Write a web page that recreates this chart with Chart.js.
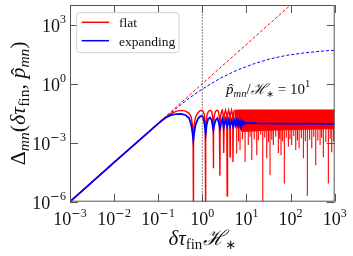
<!DOCTYPE html>
<html>
<head>
<meta charset="utf-8">
<script src="https://cdn.jsdelivr.net/npm/chart.js@4.4.1/dist/chart.umd.min.js"></script>
<style>
  html, body { margin: 0; padding: 0; background: #fff; }
  canvas { display: block; }
</style>
</head>
<body>
<canvas id="chart" width="353" height="256"></canvas>
<script>
// ticks
const xTicks = [1e-3, 1e-2, 1e-1, 1e0, 1e1, 1e2, 1e3];
const xTickExp = ["−3", "−2", "−1", "0", "1", "2", "3"];
const yTicks = [1e-6, 1e-3, 1e0, 1e3];
const yTickExp = ["−6", "−3", "0", "3"];

// flat, solid (resolved oscillations)
const flatX = [1e-3, 0.01, 0.1, 0.143, 0.2, 0.26, 0.34, 0.42, 0.5, 0.56, 0.595, 0.615, 0.625, 0.635, 0.655,
  0.7, 0.78, 0.86, 0.95, 1.04, 1.11, 1.16, 1.18, 1.19, 1.2, 1.225, 1.28, 1.38, 1.5, 1.62,
  1.71, 1.76, 1.78, 1.8, 1.86, 1.98, 2.15, 2.3, 2.42, 2.49, 2.51, 2.53, 2.6, 2.72, 2.85,
  2.97, 3.05, 3.13, 3.35, 3.58, 3.65, 3.72, 3.95, 4.18, 4.25, 4.32, 4.6, 4.86, 4.95, 5.04, 5.3];
const flatY = [1e-6, 1e-4, 0.0095, 0.019, 0.031, 0.040, 0.044, 0.040, 0.031, 0.020, 0.008, 0.0025, 1e-7, 0.0025, 0.008,
  0.020, 0.032, 0.040, 0.044, 0.040, 0.027, 0.010, 0.003, 1e-7, 0.003, 0.010, 0.027, 0.040, 0.044, 0.039,
  0.022, 0.005, 5e-5, 0.005, 0.022, 0.039, 0.045, 0.040, 0.022, 0.005, 2.1e-5, 0.005, 0.022, 0.040, 0.045,
  0.025, 3e-4, 0.025, 0.045, 0.025, 2e-6, 0.025, 0.045, 0.025, 1.9e-4, 0.025, 0.045, 0.025, 1.05e-4, 0.025, 0.045];

// flat, dense part: band envelope + the visible spikes
const bandX = [5.3, 8, 30, 1000];
const bandTop = [0.045, 0.046, 0.046, 0.046];
const bandBottom = [0.012, 0.0035, 0.004, 0.005];
const spikeTop = 0.045;
const flatSpikeX = [6.0, 6.6, 7.15, 8.1, 9.3, 11, 12.1, 13.2, 15, 17.1, 18.6, 21, 23.4, 26, 28.8,
  31.5, 34.2, 37.5, 40.7, 46, 52.8, 56.5, 60.8, 66, 72.2, 80, 89, 97, 106, 118,
  131, 143, 156, 175, 195, 216, 240, 270, 302, 335, 372, 415, 466, 505, 553, 630, 718, 790, 857, 940];
const flatSpikeY = [2.8e-4, 1.2e-3, 4.2e-4, 1.5e-3, 1.05e-4, 7.6e-4, 2e-3, 1.3e-4, 1.5e-3, 2.3e-4, 1.35e-3, 2.5e-3, 5e-7, 1.8e-3, 1.6e-4,
  1.1e-3, 2.2e-5, 1.4e-3, 7.6e-4, 2e-3, 3e-4, 1.6e-3, 2.3e-4, 1.2e-3, 8.3e-6, 1.8e-3, 6.2e-4, 1.5e-3, 7.6e-4, 2.2e-3,
  4.2e-4, 1.3e-3, 5.2e-4, 1.7e-3, 1.6e-4, 1.2e-3, 2e-6, 1.4e-3, 5.2e-4, 2e-3, 7.1e-5, 1.3e-3, 7.6e-4, 1.8e-3, 1.8e-4, 1.1e-3, 8.3e-6, 1.6e-3, 3.3e-4, 1.2e-3];

// expanding, solid
const expX = [1e-3, 0.01, 0.1, 0.143, 0.2, 0.26, 0.33, 0.42, 0.5, 0.56, 0.6, 0.625, 0.65, 0.7, 0.8,
  0.9, 0.97, 1.05, 1.13, 1.19, 1.25, 1.35, 1.5, 1.62, 1.72, 1.78, 1.86, 2.0, 2.19, 2.35,
  2.51, 2.7, 2.85, 3.05, 3.35, 3.65, 3.95, 4.25, 4.6, 4.95, 5.25, 5.55, 5.9, 6.2, 6.5,
  6.85, 7.2, 7.5, 7.9, 8.3, 8.7, 9.1, 10, 20, 100, 1000];
const expY = [1e-6, 1e-4, 0.0093, 0.018, 0.026, 0.0285, 0.029, 0.025, 0.018, 0.008, 0.003, 0.00135, 0.003, 0.008, 0.017,
  0.022, 0.0235, 0.019, 0.008, 0.0028, 0.008, 0.016, 0.019, 0.014, 0.007, 0.0045, 0.008, 0.014, 0.0174, 0.011,
  0.0054, 0.012, 0.0158, 0.006, 0.015, 0.0066, 0.0141, 0.0069, 0.0135, 0.0072, 0.0132, 0.0076, 0.0128, 0.0078, 0.0125,
  0.008, 0.012, 0.0083, 0.0118, 0.0086, 0.0114, 0.0088, 0.0102, 0.0096, 0.0093, 0.009];

// dashed envelopes
const flatDashX = [1e-3, 100];
const flatDashY = [1e-6, 1e4];
const expDashX = [1e-3, 0.1, 0.251, 0.501, 1, 2.51, 6.03, 14.3, 34.2, 81.3, 195, 466, 1000];
const expDashY = [1e-6, 0.0093, 0.053, 0.184, 0.537, 1.86, 4.79, 10, 18.2, 27.5, 36.3, 44.7, 50.1];

const markX = 1;
const annotX = 3.45, annotY = 0.31;

const RED = "#ff0000", BLUE = "#0000ff";
const serif = "'Liberation Serif', 'DejaVu Serif', serif";
const fnt = (size, italic) => (italic ? "italic " : "") + size + "px " + serif;

const pts = (xs, ys) => xs.map((x, i) => ({ x: x, y: ys[i] }));

const spikePts = [];
flatSpikeX.forEach((x, i) => {
    spikePts.push({ x: x, y: spikeTop }, { x: x, y: flatSpikeY[i] }, { x: x, y: null });
});

function runsWidth(ctx, runs) {
    let w = 0;
    runs.forEach(r => { ctx.font = r.font; w += ctx.measureText(r.t).width + (r.gap || 0); });
    return w;
}
function drawRuns(ctx, runs, x, y) {
    let cx = x;
    runs.forEach(r => {
        ctx.font = r.font;
        ctx.fillText(r.t, cx, y + (r.dy || 0));
        const w = ctx.measureText(r.t).width;
        if (r.hat) {
            ctx.save();
            ctx.font = r.hat.font;
            ctx.textAlign = "center";
            ctx.fillText("ˆ", cx + w / 2 + r.hat.dx, y + r.hat.dy);
            ctx.restore();
        }
        cx += w + (r.gap || 0);
    });
}
function tickRuns(exp) {
    const runs = [{ t: "10", font: fnt(18) }];
    if (exp[0] === "−") {
        runs.push({ t: "−", font: "11px 'DejaVu Sans'", dy: -8.5, gap: 0.5 });
        runs.push({ t: exp.slice(1), font: fnt(12), dy: -8.5 });
    } else {
        runs.push({ t: exp, font: fnt(12), dy: -8.5 });
    }
    return runs;
}

const decorPlugin = {
    id: "decor",
    afterDatasetsDraw(chart) {
        const ctx = chart.ctx;
        const a = chart.chartArea;
        const xs = chart.scales.x, ys = chart.scales.y;
        ctx.save();

        // frame and inward ticks
        ctx.strokeStyle = "#555";
        ctx.lineWidth = 1;
        ctx.strokeRect(a.left + 0.5, a.top + 0.5, a.right - a.left - 1, a.bottom - a.top - 1);
        ctx.beginPath();
        xTicks.forEach(v => {
            const px = Math.round(xs.getPixelForValue(v)) + 0.5;
            ctx.moveTo(px, a.bottom); ctx.lineTo(px, a.bottom - 8);
            ctx.moveTo(px, a.top); ctx.lineTo(px, a.top + 8);
        });
        yTicks.forEach(v => {
            const py = Math.round(ys.getPixelForValue(v)) + 0.5;
            ctx.moveTo(a.left, py); ctx.lineTo(a.left + 8, py);
            ctx.moveTo(a.right, py); ctx.lineTo(a.right - 8, py);
        });
        ctx.stroke();

        // tick labels
        ctx.fillStyle = "#111";
        ctx.textAlign = "left";
        ctx.textBaseline = "alphabetic";
        xTicks.forEach((v, i) => {
            const runs = tickRuns(xTickExp[i]);
            const w = runsWidth(ctx, runs);
            drawRuns(ctx, runs, xs.getPixelForValue(v) - w / 2, a.bottom + 23.5);
        });
        yTicks.forEach((v, i) => {
            const runs = tickRuns(yTickExp[i]);
            const w = runsWidth(ctx, runs);
            drawRuns(ctx, runs, a.left - 4 - w, ys.getPixelForValue(v) + 7);
        });

        // x label
        const xl = [
            { t: "δτ", font: fnt(21, true) },
            { t: "fin", font: fnt(15), dy: 4, gap: 1 },
            { t: "ℋ", font: fnt(21, true) },
            { t: "∗", font: "13px 'DejaVu Sans'", dy: 4 }
        ];
        const xlw = runsWidth(ctx, xl);
        drawRuns(ctx, xl, (a.left + a.right) / 2 - xlw / 2, 245);

        // y label
        const yl = [
            { t: "Δ", font: fnt(22) },
            { t: "mn", font: fnt(15.5, true), dy: 4 },
            { t: "(", font: fnt(22) },
            { t: "δτ", font: fnt(22, true) },
            { t: "fin", font: fnt(15.5), dy: 4 },
            { t: ", ", font: fnt(22) },
            { t: "p", font: fnt(22, true), hat: { font: fnt(22), dx: 1.5, dy: 1 } },
            { t: "mn", font: fnt(15.5, true), dy: 4 },
            { t: ")", font: fnt(22) }
        ];
        const ylw = runsWidth(ctx, yl);
        ctx.save();
        ctx.translate(25, (a.top + a.bottom) / 2);
        ctx.rotate(-Math.PI / 2);
        drawRuns(ctx, yl, -ylw / 2, 0);
        ctx.restore();

        // annotation
        const an = [
            { t: "p", font: fnt(15, true), hat: { font: fnt(15), dx: 1, dy: 0 } },
            { t: "mn", font: fnt(10.5, true), dy: 3 },
            { t: "/", font: fnt(15) },
            { t: "ℋ", font: fnt(15, true) },
            { t: "∗", font: "9px 'DejaVu Sans'", dy: 3 },
            { t: " = 10", font: fnt(15) },
            { t: "1", font: fnt(10.5), dy: -7 }
        ];
        drawRuns(ctx, an, xs.getPixelForValue(annotX), ys.getPixelForValue(annotY));

        // legend
        const lx = 76.7, ly = 12.7, lw = 102.3, lh = 40, r = 3;
        ctx.beginPath();
        ctx.moveTo(lx + r, ly);
        ctx.arcTo(lx + lw, ly, lx + lw, ly + lh, r);
        ctx.arcTo(lx + lw, ly + lh, lx, ly + lh, r);
        ctx.arcTo(lx, ly + lh, lx, ly, r);
        ctx.arcTo(lx, ly, lx + lw, ly, r);
        ctx.closePath();
        ctx.fillStyle = "rgba(255,255,255,0.8)";
        ctx.fill();
        ctx.strokeStyle = "#d0d0d0";
        ctx.stroke();
        [["flat", RED, 22.3], ["expanding", BLUE, 40.7]].forEach(([label, col, y]) => {
            ctx.strokeStyle = col;
            ctx.lineWidth = 1.5;
            ctx.beginPath();
            ctx.moveTo(81.7, y); ctx.lineTo(109, y);
            ctx.stroke();
            ctx.fillStyle = "#111";
            ctx.font = fnt(13.5);
            ctx.fillText(label, 119, y + 5);
        });
        ctx.restore();
    }
};

const line = (data, color, width, extra) => Object.assign({
    data: data, showLine: true, borderColor: color, backgroundColor: color,
    borderWidth: width, pointRadius: 0, fill: false, tension: 0, spanGaps: false
}, extra || {});

new Chart(document.getElementById("chart"), {
    type: "scatter",
    data: {
        datasets: [
            line(pts(expX, expY), BLUE, 1.8),
            line(spikePts, RED, 1.1),
            line(pts(bandX, bandTop), RED, 1, { fill: "+1" }),
            line(pts(bandX, bandBottom), RED, 0),
            line(pts(flatX, flatY), RED, 1.4),
            line(pts(expDashX, expDashY), BLUE, 1, { borderDash: [3, 2] }),
            line(pts(flatDashX, flatDashY), RED, 1, { borderDash: [3, 2] }),
            line([{ x: markX, y: 1e-6 }, { x: markX, y: 1e4 }], "#333", 0.8, { borderDash: [1.5, 1.5] })
        ]
    },
    options: {
        responsive: false,
        animation: false,
        layout: { padding: { left: 70, right: 18.3, top: 5, bottom: 54.3 } },
        plugins: { legend: { display: false }, tooltip: { enabled: false } },
        scales: {
            x: { type: "logarithmic", min: 1e-3, max: 1e3, display: false },
            y: { type: "logarithmic", min: 1e-6, max: 1e4, display: false }
        }
    },
    plugins: [decorPlugin]
});
</script>
</body>
</html>
